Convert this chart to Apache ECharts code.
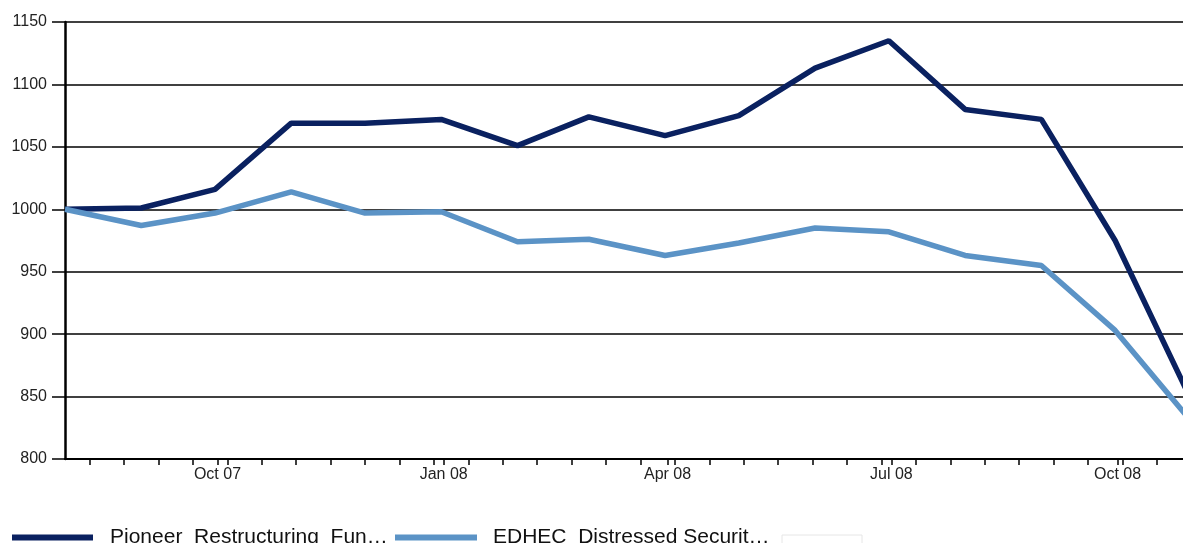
<!DOCTYPE html>
<html>
<head>
<meta charset="utf-8">
<script src="https://cdn.jsdelivr.net/npm/echarts@6/dist/echarts.min.js"></script>
<style>
html,body{margin:0;padding:0;background:#fff;}
#c{width:1183px;height:543px;}
</style>
</head>
<body>
<div id="c"></div>
<script>
// Month-end observation dates
var dates = ['2007-07-31','2007-08-31','2007-09-30','2007-10-31','2007-11-30','2007-12-31',
             '2008-01-31','2008-02-29','2008-03-31','2008-04-30','2008-05-31','2008-06-30',
             '2008-07-31','2008-08-31','2008-09-30','2008-10-31'];
var pioneer = [1000,1001,1016,1069,1069,1072,1051,1074,1059,1075,1113,1135,1080,1072,975,847];
var edhec   = [1000,987,997,1014,997,998,974,976,963,973,985,982,963,955,903,830];
var seriesNames = ['Pioneer  Restructuring  Fun\u2026','EDHEC  Distressed Securit\u2026'];
var tickLabelDates = ['2007-10-01','2008-01-01','2008-04-01','2008-07-01','2008-10-01'];
var tickLabels = ['Oct 07','Jan 08','Apr 08','Jul 08','Oct 08'];
var minorTickStart = '2007-08-10';

var origin = Date.UTC(2007,6,31);
function dayOf(s){var p=s.split('-');return (Date.UTC(+p[0],+p[1]-1,+p[2])-origin)/86400000;}
var xMax = 454.6;
var labelDays = tickLabelDates.map(dayOf);
var tickDays = [];
for (var d = dayOf(minorTickStart); d <= xMax; d += 14) tickDays.push(d);
var allTicks = tickDays.concat(labelDays).sort(function(a,b){return a-b;});
var labelMap = {};
labelDays.forEach(function(d,i){labelMap[d]=tickLabels[i];});

var s1 = dates.map(function(t,i){return [dayOf(t), pioneer[i]];});
var s2 = dates.map(function(t,i){return [dayOf(t), edhec[i]];});

var chart = echarts.init(document.getElementById('c'), null, {renderer:'canvas'});
var font = 'Liberation Sans, Arial, Helvetica, sans-serif';
chart.setOption({
  animation:false,
  backgroundColor:'#fff',
  grid:{left:65, right:0, top:22, bottom:84, containLabel:false},
  xAxis:{
    type:'value', min:0, max:xMax,
    axisLine:{show:true, onZero:false, lineStyle:{color:'#000', width:2}},
    axisTick:{show:true, customValues:allTicks, length:6, lineStyle:{color:'#000', width:1.5}},
    axisLabel:{customValues:labelDays, margin:8, color:'#222', fontSize:16, fontFamily:font,
      formatter:function(v){return labelMap[v]||'';}},
    splitLine:{show:false}
  },
  yAxis:{
    type:'value', min:800, max:1150, interval:50,
    axisLine:{show:true, lineStyle:{color:'#000', width:2.5}},
    axisTick:{show:true, length:13, lineStyle:{color:'#000', width:1.5}},
    axisLabel:{margin:18, color:'#222', fontSize:16, fontFamily:font,
      formatter:function(v){return String(v);}},
    splitLine:{show:true, lineStyle:{color:'#000', width:1.5}}
  },
  legend:[
    {data:[seriesNames[0]], left:12, top:527, padding:0, icon:'rect', itemWidth:81, itemHeight:6,
     itemGap:0, textStyle:{fontSize:21, fontFamily:font, color:'#111', padding:[0,0,0,12]}},
    {data:[seriesNames[1]], left:395, top:527, padding:0, icon:'rect', itemWidth:82, itemHeight:6,
     itemGap:0, textStyle:{fontSize:21, fontFamily:font, color:'#111', padding:[0,0,0,11]}}
  ],
  graphic:[{type:'rect', shape:{x:782, y:535, width:80, height:10},
    style:{fill:'none', stroke:'#e6e6e6', lineWidth:1}, silent:true}],
  series:[
    {name:seriesNames[0], type:'line', data:s1, showSymbol:false, clip:true,
     lineStyle:{color:'#0a2160', width:5.5}, itemStyle:{color:'#0a2160'}},
    {name:seriesNames[1], type:'line', data:s2, showSymbol:false, clip:true,
     lineStyle:{color:'#5b93c6', width:5.5}, itemStyle:{color:'#5b93c6'}}
  ]
});
</script>
</body>
</html>
